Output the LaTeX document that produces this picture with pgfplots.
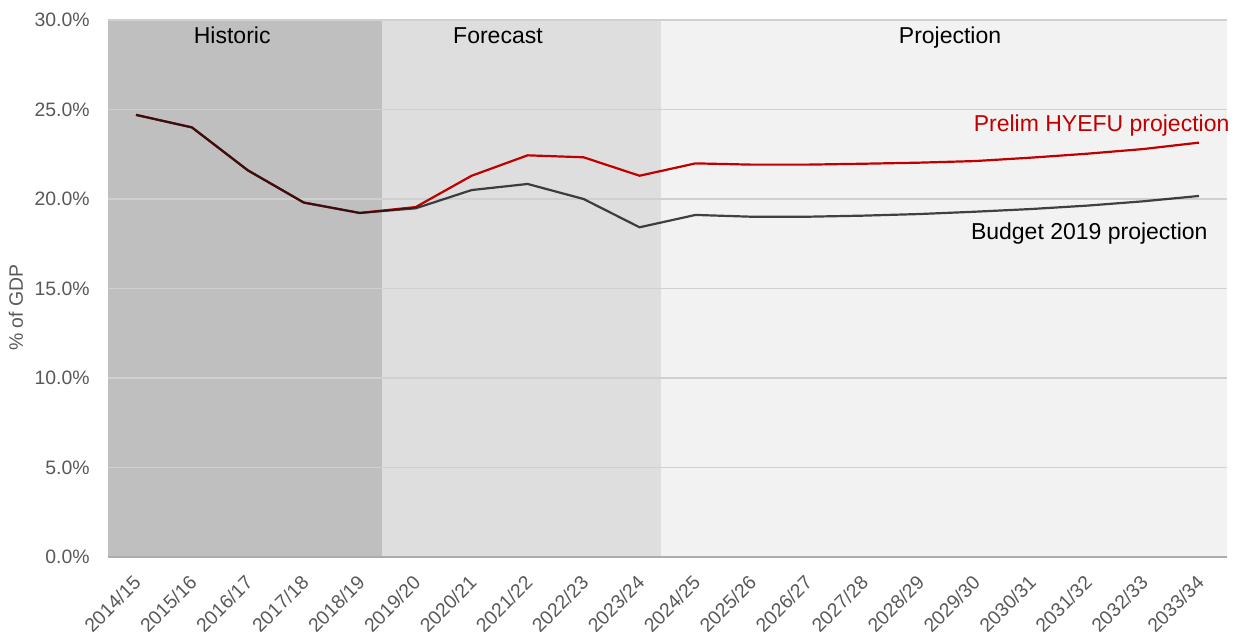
\documentclass[border=0pt]{standalone}
\usepackage{fontspec}
\setmainfont{Liberation Sans}
\usepackage{pgfplots}
\pgfplotsset{compat=1.18}

\definecolor{histfill}{HTML}{BFBFBF}
\definecolor{forefill}{HTML}{DEDEDE}
\definecolor{projfill}{HTML}{F2F2F2}
\definecolor{gridgrey}{HTML}{D0D0D0}
\definecolor{labgrey}{HTML}{595959}
\definecolor{hyefured}{HTML}{C00000}
\definecolor{budgetblack}{HTML}{141414}

% revenue as share of GDP, one value per fiscal year (0 = 2014/15)
\pgfplotstableread{
x  budget hyefu
0  24.70  24.70
1  24.00  24.00
2  21.60  21.60
3  19.80  19.80
4  19.22  19.22
5  19.48  19.55
6  20.50  21.30
7  20.84  22.44
8  20.00  22.33
9  18.42  21.30
10 19.11  21.99
11 19.01  21.92
12 19.01  21.92
13 19.07  21.97
14 19.16  22.03
15 19.29  22.12
16 19.44  22.31
17 19.63  22.53
18 19.87  22.79
19 20.17  23.15
}\revenue

\begin{document}
\begin{tikzpicture}
\pgfplotsset{set layers}
\begin{axis}[
  scale only axis,
  width=559.5bp, height=268.5bp,
  xmin=-0.5, xmax=19.5,
  ymin=0, ymax=30,
  clip=false,
  axis line style={draw=none},
  tick style={draw=none},
  ytick={0,5,...,30},
  ymajorgrids,
  grid style={gridgrey, line width=0.7bp},
  /pgf/number format/.cd, fixed, fixed zerofill, precision=1, assume math mode=true,
  /pgfplots/.cd,
  yticklabel={\pgfmathprintnumber{\tick}\%},
  yticklabel style={font=\fontsize{9.7bp}{11bp}\selectfont, text=labgrey, inner sep=0pt, anchor=east, xshift=-9bp},
  xtick={0,...,19},
  xticklabels={2014/15,2015/16,2016/17,2017/18,2018/19,2019/20,2020/21,2021/22,2022/23,2023/24,2024/25,2025/26,2026/27,2027/28,2028/29,2029/30,2030/31,2031/32,2032/33,2033/34},
  xticklabel style={font=\fontsize{9.7bp}{11bp}\selectfont, text=labgrey, inner sep=0pt, yshift=-11bp, xshift=0.75bp, rotate=45, anchor=east},
]
% period shading behind the grid
\begin{pgfonlayer}{axis background}
  \fill[histfill] (axis cs:-0.5,0) rectangle (axis cs:4.4,30);
  \fill[forefill] (axis cs:4.4,0) rectangle (axis cs:9.38,30);
  \fill[projfill] (axis cs:9.38,0) rectangle (axis cs:19.5,30);
\end{pgfonlayer}
\draw[histfill!90!black, line width=0.9bp] (axis cs:-0.5,0) -- (axis cs:19.5,0);

\addplot[hyefured, line width=1.1bp] table[x=x, y=hyefu] {\revenue};
\addplot[budgetblack, line width=1.1bp, opacity=0.8] table[x=x, y=budget] {\revenue};

\node[font=\fontsize{11.5bp}{13bp}\selectfont, anchor=base] at (axis cs:1.72,28.66) {Historic};
\node[font=\fontsize{11.5bp}{13bp}\selectfont, anchor=base] at (axis cs:6.47,28.66) {Forecast};
\node[font=\fontsize{11.5bp}{13bp}\selectfont, anchor=base] at (axis cs:14.55,28.66) {Projection};
\node[font=\fontsize{11.5bp}{13bp}\selectfont, text=hyefured, anchor=east, inner sep=0pt] at (axis cs:19.55,24.08) {Prelim HYEFU projection};
\node[font=\fontsize{11.5bp}{13bp}\selectfont, text=black, anchor=east, inner sep=0pt] at (axis cs:19.16,18.05) {Budget 2019 projection};
\node[font=\fontsize{9.7bp}{11bp}\selectfont, text=labgrey, rotate=90, anchor=center] at (axis description cs:-0.0822,0.464) {\% of GDP};
\end{axis}
\pgfresetboundingbox
\path (current axis.south west) ++(-54bp,-37.5bp) coordinate (bbA);
\path (current axis.north east) ++(6.5bp,10bp) coordinate (bbB);
\path[use as bounding box] (bbA) rectangle (bbB);
\end{tikzpicture}
\end{document}
